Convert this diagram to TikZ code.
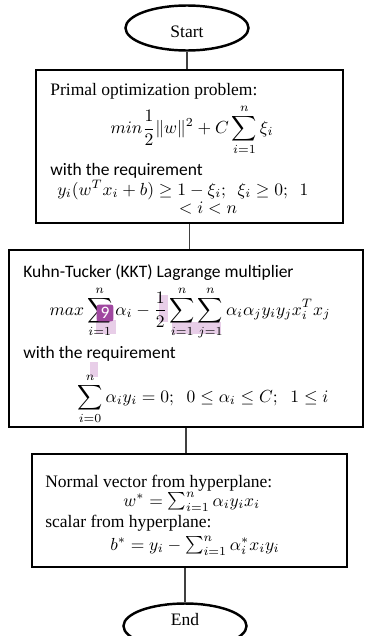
\documentclass[tikz,border=0pt]{standalone}
\usepackage{amsmath}
\usepackage{fontspec}
\setmainfont{Liberation Serif}
\newfontfamily\calibri{Carlito}
\usetikzlibrary{shapes.geometric}
\definecolor{hlpurple}{RGB}{232,206,232}
\definecolor{darkpurple}{RGB}{160,72,160}
\tikzset{
  term/.style={ellipse, draw, line width=1.4pt, minimum width=70.3pt, minimum height=25.7pt, inner sep=0pt},
  procbox/.style={rectangle, draw, line width=1.6pt},
  link/.style={draw=black!75, line width=0.7pt},
  txt/.style={anchor=base west, inner sep=0pt},
  eq/.style={inner sep=0pt},
  hl/.style={fill=hlpurple, draw=none}
}
\begin{document}
\begin{tikzpicture}[x=0.5714pt,y=-0.5714pt]
\useasboundingbox (0,0) rectangle (367,636);
% terminals
\node[term] (start) at (187,28) {};
\node[inner sep=0pt] (starttext) at (187,32) {Start};
\node[term] (end) at (185,626) {};
\node[inner sep=0pt] (endtext) at (185,620) {End};
% boxes
\node[procbox, minimum width=175.4pt, minimum height=87.4pt] (box1) at (189.5,146.5) {};
\node[procbox, minimum width=202.3pt, minimum height=101.1pt] (box2) at (186,338.5) {};
\node[procbox, minimum width=180pt, minimum height=64.6pt] (box3) at (189.5,510.5) {};
% connectors
\draw[link] (start.south) -- (start.south |- box1.north);
\draw[link] (box1.south) -- (box1.south |- box2.north);
\draw[link] (box2.south) -- (box2.south |- box3.north);
\draw[link] (box3.south -| end.north) -- (end.north);
% box 1 text
\node[txt] (t1a) at (50,95) {Primal optimization problem:};
\node[eq] (eq1) at (192,130) {$\displaystyle min\frac{1}{2}\|w\|^2+C\sum_{i=1}^{n}\xi_i$};
\node[txt] (t1b) at (50,175) {\calibri with the requirement};
\node[txt] (eq1b) at (57,195) {$y_i(w^Tx_i+b)\geq 1-\xi_i;\enspace\xi_i\geq 0;\enspace1$};
\node[anchor=base, inner sep=0pt] (eq1c) at (208,213) {$<i<n$};
% box 2 highlights
\fill[hl] (96,320) rectangle (116,334);
\fill[hl] (159,295) rectangle (168,322);
\fill[hl] (172,322) rectangle (221,334);
\fill[hl] (90,362) rectangle (98,377);
% box 2 text
\node[txt] (t2a) at (23,277) {\calibri Kuhn-Tucker (KKT) Lagrange multiplier};
\node[eq] (eq2) at (190,313) {$\displaystyle max\sum_{i=1}^{n}\alpha_i-\frac{1}{2}\sum_{i=1}^{n}\sum_{j=1}^{n}\alpha_i\alpha_jy_iy_jx_i^Tx_j$};
\node[txt] (t2b) at (23,358) {\calibri with the requirement};
\begin{scope}
\clip ([yshift=0.8pt]box2.south west) rectangle (box2.north east);
\node[eq] (eq2b) at (203,399) {$\displaystyle \sum_{i=0}^{n}\alpha_iy_i=0;\;\;0\leq\alpha_i\leq C;\;\;1\leq i$};
\end{scope}
\node[fill=darkpurple, rounded corners=1.5pt, minimum size=9.7pt, inner sep=0pt, text=white] (nine) at (105,313) {\calibri 9};
% box 3 text
\node[txt] (t3a) at (45,487) {Normal vector from hyperplane:};
\node[txt] (eq3a) at (123,506) {$w^*=\sum_{i=1}^{n}\alpha_iy_ix_i$};
\node[txt] (t3b) at (45,527) {scalar from hyperplane:};
\node[txt] (eq3b) at (110,550) {$b^*=y_i-\sum_{i=1}^{n}\alpha_i^*x_iy_i$};
\end{tikzpicture}
\end{document}
